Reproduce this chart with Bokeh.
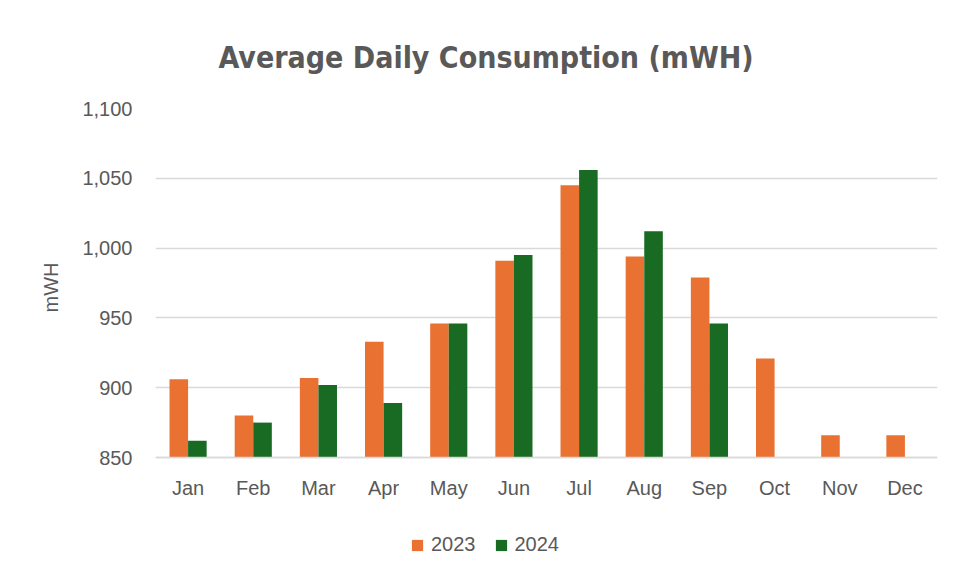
from bokeh.plotting import figure
from bokeh.models import ColumnDataSource, FixedTicker, NumeralTickFormatter, Legend, LegendItem, Range1d, Title
from bokeh.transform import dodge
from bokeh.embed import file_html
from bokeh.resources import INLINE

months = ["Jan", "Feb", "Mar", "Apr", "May", "Jun", "Jul", "Aug", "Sep", "Oct", "Nov", "Dec"]
y2023 = [906, 880, 907, 933, 946, 991, 1045, 994, 979, 921, 866, 866]
y2024 = [862, 875, 902, 889, 946, 995, 1056, 1012, 946, float("nan"), float("nan"), float("nan")]
y_ticks = [850, 900, 950, 1000, 1050, 1100]
Y_MIN, Y_MAX = 850, 1100

src = ColumnDataSource(dict(month=months, y2023=y2023, y2024=y2024))

TXT = "#595959"
FONT = "Liberation Sans"
FS = "20px"

# layout: value axis spans 349 px; frame extends below it to hold the x labels and legend
AXIS_PX = 349
FRAME_H = 470
y_start = Y_MAX - FRAME_H * (Y_MAX - Y_MIN) / AXIS_PX

p = figure(x_range=months, y_range=Range1d(y_start, Y_MAX),
           frame_width=782, frame_height=FRAME_H,
           output_backend="svg", toolbar_location=None,
           title="Average Daily Consumption (mWH)",
           min_border_left=155, min_border_right=24, min_border_top=108, min_border_bottom=0)
p.x_range.range_padding = 0

bw = 0.285
r1 = p.vbar(x=dodge("month", -bw / 2, range=p.x_range), top="y2023", bottom=Y_MIN, width=bw,
            source=src, fill_color="#E97132", line_color=None)
r2 = p.vbar(x=dodge("month", bw / 2, range=p.x_range), top="y2024", bottom=Y_MIN, width=bw,
            source=src, fill_color="#196B24", line_color=None)

p.title.align = "left"
p.title.vertical_align = "top"
p.title.text_font = "DejaVu Sans Condensed"
p.title.text_font_size = "30px"
p.title.text_font_style = "bold"
p.title.text_color = TXT
p.title.standoff = 64
p.title.offset = 63

p.outline_line_color = None
p.xgrid.grid_line_color = None
p.ygrid.grid_line_color = "#D9D9D9"
p.ygrid.grid_line_width = 1.5

p.yaxis.ticker = FixedTicker(ticks=y_ticks)
p.yaxis.formatter = NumeralTickFormatter(format="0,0")
p.yaxis.axis_line_color = None
p.yaxis.major_tick_line_color = None
p.yaxis.minor_tick_line_color = None
p.yaxis.major_label_text_font = FONT
p.yaxis.major_label_text_font_size = FS
p.yaxis.major_label_text_color = TXT
p.yaxis.major_label_standoff = 17

# value-axis title, placed beside the 850-1100 span
ytitle = Title(text="mWH", align="right", vertical_align="bottom", offset=154, standoff=36,
               text_font=FONT, text_font_size=FS, text_font_style="normal", text_color=TXT)
p.add_layout(ytitle, "left")

p.xaxis.fixed_location = Y_MIN
p.xaxis.axis_line_color = "#D9D9D9"
p.xaxis.axis_line_width = 1.5
p.xaxis.major_tick_line_color = None
p.xaxis.minor_tick_line_color = None
p.xaxis.major_label_text_font = FONT
p.xaxis.major_label_text_font_size = FS
p.xaxis.major_label_text_color = TXT
p.xaxis.major_label_standoff = 13

legend = Legend(items=[LegendItem(label="2023", renderers=[r1]),
                       LegendItem(label="2024", renderers=[r2])],
                orientation="horizontal", location=(255, 22),
                label_text_font=FONT, label_text_font_size=FS, label_text_color=TXT,
                glyph_width=14, glyph_height=14, spacing=18, label_standoff=7,
                border_line_color=None, background_fill_alpha=0, margin=0, padding=4)
p.add_layout(legend, "center")

open("out.html", "w").write(file_html(p, INLINE))
